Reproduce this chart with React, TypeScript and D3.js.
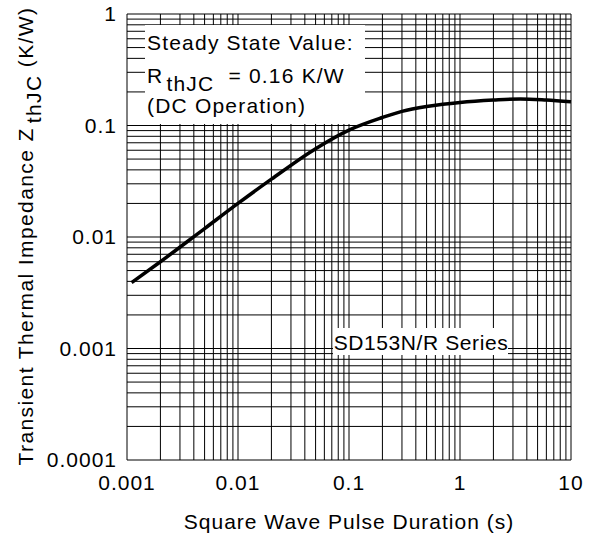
import React, { useEffect, useRef } from 'react'
import * as d3 from 'd3'

// pulse duration (s) and transient thermal impedance (K/W)
const pulseDuration = [0.0011, 0.002, 0.005, 0.01, 0.02, 0.05, 0.1, 0.2, 0.3, 0.5, 0.7, 1, 2, 3.5, 6, 10]
const impedance = [0.0039, 0.006, 0.0119, 0.02, 0.033, 0.062, 0.091, 0.118, 0.134, 0.148, 0.155, 0.161, 0.169, 0.173, 0.169, 0.163]

const xTickLabels = ['0.001', '0.01', '0.1', '1', '10']
const yTickLabels = ['0.0001', '0.001', '0.01', '0.1', '1']

const width = 601
const height = 539
const font = 'Liberation Sans, Arial, sans-serif'

const App = () => {
  const ref = useRef<SVGSVGElement>(null)

  useEffect(() => {
    if (ref.current) makeSVG(ref.current)
  }, [])

  return (
    <svg
      ref={ref}
      width={width}
      height={height}
      style={{ position: 'absolute', left: 0, top: 0, background: 'white' }}
    />
  )
}

const makeSVG = (node: SVGSVGElement) => {
  const svg = d3.select(node)
  svg.selectAll('*').remove()

  const left = 127
  const right = 571
  const top = 14
  const bottom = 460

  // x scale
  const xScale = d3.scaleLog().domain([0.001, 10]).range([left, right])
  // y scale
  const yScale = d3.scaleLog().domain([0.0001, 1]).range([bottom, top])

  // grid
  const grid = svg.append('g').attr('stroke', '#000').attr('stroke-width', 1)
  grid
    .selectAll('.vx')
    .data(xScale.ticks())
    .enter()
    .append('line')
    .attr('x1', (d) => xScale(d))
    .attr('x2', (d) => xScale(d))
    .attr('y1', top)
    .attr('y2', bottom)
  grid
    .selectAll('.hy')
    .data(yScale.ticks())
    .enter()
    .append('line')
    .attr('x1', left)
    .attr('x2', right)
    .attr('y1', (d) => yScale(d))
    .attr('y2', (d) => yScale(d))

  // label boxes
  svg.append('rect').attr('x', 145).attr('y', 25).attr('width', 220).attr('height', 99).attr('fill', 'white')
  svg.append('rect').attr('x', 333).attr('y', 328).attr('width', 175).attr('height', 27).attr('fill', 'white')

  const note = svg
    .append('g')
    .attr('font-family', font)
    .attr('font-size', 21)
    .attr('letter-spacing', 1.2)
    .attr('fill', '#000')
  note.append('text').attr('x', 147).attr('y', 50).text('Steady State Value:')
  const r = note.append('text').attr('x', 147).attr('y', 83)
  r.append('tspan').text('R')
  r.append('tspan').attr('dx', 3).attr('dy', 8).text('thJC')
  r.append('tspan').attr('dy', -8).text('\u00a0\u00a0= 0.16 K/W')
  note.append('text').attr('x', 147).attr('y', 113).text('(DC Operation)')
  note
    .append('text')
    .attr('x', 421)
    .attr('y', 350)
    .attr('text-anchor', 'middle')
    .attr('letter-spacing', 0.6)
    .text('SD153N/R Series')

  // curve
  const line = d3
    .line<number>()
    .x((d, i) => xScale(pulseDuration[i]))
    .y((d) => yScale(d))
    .curve(d3.curveMonotoneX)

  svg
    .append('path')
    .datum(impedance)
    .attr('d', line)
    .attr('fill', 'none')
    .attr('stroke', '#000')
    .attr('stroke-width', 3.5)

  // x axis labels
  const decadesX = [0.001, 0.01, 0.1, 1, 10]
  svg
    .append('g')
    .selectAll('text')
    .data(xTickLabels)
    .enter()
    .append('text')
    .attr('x', (d, i) => xScale(decadesX[i]))
    .attr('y', 490)
    .attr('text-anchor', 'middle')
    .attr('font-family', font)
    .attr('font-size', 21)
    .attr('letter-spacing', 1)
    .text((d) => d)

  // y axis labels
  const decadesY = [0.0001, 0.001, 0.01, 0.1, 1]
  svg
    .append('g')
    .selectAll('text')
    .data(yTickLabels)
    .enter()
    .append('text')
    .attr('x', 117)
    .attr('y', (d, i) => yScale(decadesY[i]) + 7)
    .attr('text-anchor', 'end')
    .attr('font-family', font)
    .attr('font-size', 21)
    .attr('letter-spacing', 1)
    .text((d) => d)

  // axis titles
  svg
    .append('text')
    .attr('x', 349)
    .attr('y', 529)
    .attr('text-anchor', 'middle')
    .attr('font-family', font)
    .attr('font-size', 21)
    .attr('letter-spacing', 1)
    .text('Square Wave Pulse Duration (s)')

  const yTitle = svg
    .append('text')
    .attr('transform', 'translate(33, 236) rotate(-90)')
    .attr('text-anchor', 'middle')
    .attr('font-family', font)
    .attr('font-size', 21)
    .attr('letter-spacing', 1.4)
  yTitle.append('tspan').text('Transient Thermal Impedance Z')
  yTitle.append('tspan').attr('dx', 4).attr('dy', 8).text('thJC')
  yTitle.append('tspan').attr('dy', -8).text('\u00a0(K/W)')
}

export default App
